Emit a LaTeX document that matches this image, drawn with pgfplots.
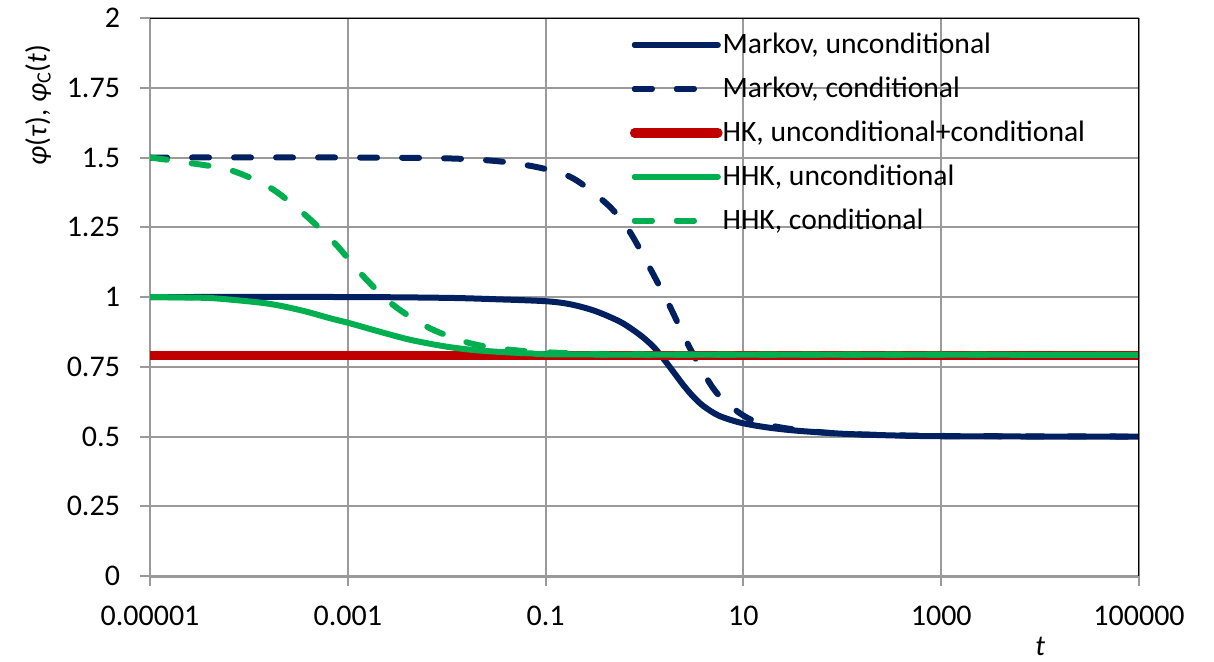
\documentclass[border=0pt]{standalone}
\usepackage{fontspec}
\setmainfont{Carlito}
\usepackage{pgfplots}
\pgfplotsset{compat=1.18}
\definecolor{navy}{HTML}{002060}
\definecolor{hkred}{HTML}{C00000}
\definecolor{hgreen}{HTML}{00B050}
\definecolor{gridgray}{HTML}{9A9A9A}
\pgfplotsset{
  solidleg/.style={legend image code/.code={\draw[##1, overlay] (0pt,0pt) -- (41.5pt,0pt); \path (0pt,0pt) -- (40pt,0pt);}},
  dashleg/.style={legend image code/.code={\draw[##1, overlay] (0pt,0pt) -- (30pt,0pt); \path (0pt,0pt) -- (40pt,0pt);}},
  mdash/.style={dash pattern=on 8.5pt off 12.5pt, line cap=round, dashleg},
}
\begin{document}
\begin{tikzpicture}
\begin{axis}[
  scale only axis, width=494.5pt, height=279pt,
  xmin=-5, xmax=5, ymin=0, ymax=2,
  xtick={-5,-3,-1,1,3,5},
  xticklabels={0.00001,0.001,0.1,10,1000,100000},
  ytick={0,0.25,0.5,0.75,1,1.25,1.5,1.75,2},
  yticklabels={0,0.25,0.5,0.75,1,1.25,1.5,1.75,2},
  /pgf/number format/assume math mode=true,
  every tick label/.append style={font=\fontsize{15}{18}\selectfont},
  xticklabel style={yshift=-6.5pt},
  yticklabel style={xshift=-6.5pt},
  grid=major, major grid style={gridgray, line width=1pt},
  axis x line*=bottom, axis y line*=left,
  x axis line style={gridgray, line width=1.5pt, -},
  y axis line style={gridgray, line width=1pt, -},
  tick style={gridgray, line width=1pt},
  tick align=outside, major tick length=5pt,
  every axis y label/.style={at={(axis description cs:-0.1133,0.844)}, rotate=90, anchor=center, font=\fontsize{14.5}{17}\selectfont},
  every axis x label/.style={at={(axis description cs:0.9,-0.1254)}, anchor=center, font=\fontsize{14.5}{17}\selectfont},
  ylabel={\textit{φ}(\textit{τ}), \textit{φ}\textsubscript{C}(\textit{t})},
  xlabel={\textit{t}},
  legend style={at={(axis description cs:0.485,0.979)}, anchor=north west, draw=none, fill=none,
    font=\fontsize{14.8}{17}\selectfont, row sep=7.2pt, inner sep=0pt,
    nodes={inner sep=1.5pt}},
  legend cell align=left,
  solidleg,
]
\addplot[navy, line width=3pt, smooth, line cap=round] coordinates {
(-5,1.0) (-3,1.0) (-2,0.997) (-1.5,0.992) (-1.0,0.985) (-0.75,0.974) (-0.5,0.950)
(-0.25,0.912) (-0.1,0.878) (0.0,0.851) (0.1,0.818) (0.2,0.775) (0.3,0.728)
(0.4,0.681) (0.5,0.640) (0.6,0.608) (0.75,0.575) (0.966,0.550) (1.234,0.533)
(1.537,0.521) (2.0,0.51) (2.5,0.504) (3,0.501) (4,0.5) (5,0.5)};
\addlegendentry{Markov, unconditional}
\addplot[navy, line width=3pt, smooth, mdash] coordinates {
(-5,1.5) (-3,1.5) (-2,1.497) (-1.46,1.486) (-1.04,1.462) (-0.72,1.425) (-0.37,1.33)
(-0.16,1.24) (0.056,1.103) (0.258,0.965) (0.46,0.816) (0.66,0.691) (0.78,0.637)
(0.966,0.583) (1.13,0.553) (1.44,0.529) (2,0.51) (3,0.502) (5,0.5)};
\addlegendentry{Markov, conditional}
\addplot[hkred, line width=4.75pt, line cap=round] coordinates {(-5,0.79) (5,0.79)};
\addlegendentry{HK, unconditional+conditional}
\addplot[hgreen, line width=3pt, smooth, line cap=round] coordinates {
(-5,1.0) (-4.6,0.998) (-4.33,0.995) (-3.82,0.977) (-3.48,0.953) (-3.18,0.924)
(-2.98,0.906) (-2.64,0.872) (-2.36,0.846) (-2.0,0.822) (-1.66,0.808) (-1.16,0.798)
(-0.5,0.794) (5,0.793)};
\addlegendentry{HHK, unconditional}
\addplot[hgreen, line width=3pt, smooth, mdash] coordinates {
(-5,1.5) (-4.61,1.481) (-4.19,1.455) (-3.79,1.393) (-3.45,1.30) (-3.13,1.192)
(-2.84,1.073) (-2.54,0.971) (-2.17,0.888) (-1.76,0.834) (-1.33,0.810) (-0.79,0.799)
(0,0.794) (5,0.793)};
\addlegendentry{HHK, conditional}
\draw[black, line width=1.2pt] (rel axis cs:0,1) -- (rel axis cs:1,1) -- (rel axis cs:1,0);
\coordinate (BL) at (rel axis cs:-0.1517,-0.1505);
\coordinate (TR) at (rel axis cs:1.0758,1.0323);
\end{axis}
\path (BL) rectangle (TR);
\end{tikzpicture}
\end{document}
